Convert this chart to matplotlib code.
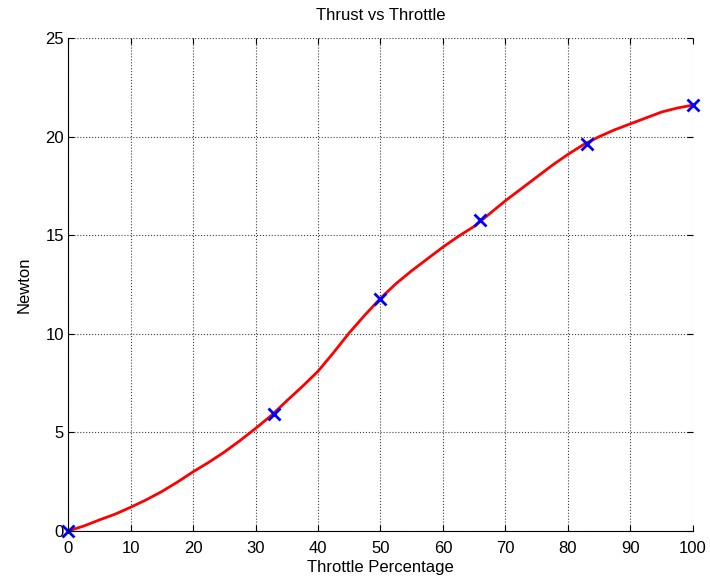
import numpy as np
import matplotlib.pyplot as plt

# Inputs
throttle = [0, 2.5, 5, 7.5, 10, 12.5, 15, 17.5, 20, 22.5, 25, 27.5, 30, 32.5, 35, 37.5, 40,
            42.5, 45, 47.5, 50, 52.5, 55, 57.5, 60, 62.5, 65, 67.5, 70, 72.5, 75, 77.5, 80,
            82.5, 85, 87.5, 90, 92.5, 95, 97.5, 100]
thrust = [0.0, 0.25, 0.56, 0.85, 1.2, 1.58, 2.0, 2.48, 3.0, 3.48, 4.0, 4.58, 5.2, 5.85,
          6.6, 7.33, 8.1, 9.05, 10.05, 10.95, 11.8, 12.55, 13.2, 13.8, 14.4, 14.95, 15.45,
          16.1, 16.75, 17.35, 17.95, 18.55, 19.1, 19.6, 20.0, 20.35, 20.65, 20.95, 21.25,
          21.45, 21.6]

meas_throttle = [0, 33, 50, 66, 83, 100]
meas_thrust = [0.0, 5.95, 11.75, 15.75, 19.65, 21.6]

plt.rcParams['font.family'] = ['Liberation Sans Narrow', 'Liberation Sans', 'DejaVu Sans']
plt.rcParams['font.size'] = 12

fig = plt.figure(figsize=(7.1, 5.85), dpi=100)
ax = fig.add_axes([0.0958, 0.0923, 0.8802, 0.8427])

ax.plot(throttle, thrust, color='red', lw=2)
ax.plot(meas_throttle, meas_thrust, 'x', color='blue', ms=9, mew=2, clip_on=False)

ax.set_xlim(0, 100)
ax.set_ylim(0, 25)
ax.set_xticks(np.arange(0, 101, 10))
ax.set_yticks(np.arange(0, 26, 5))
ax.grid(True, linestyle=':', color='#404040', lw=0.8)
ax.tick_params(direction='in', length=4, top=True, right=True, colors='black', pad=3)
ax.tick_params(axis='x', pad=7)
ax.spines['top'].set_visible(False)
ax.spines['right'].set_visible(False)

ax.set_title('Thrust vs Throttle', fontsize=12, pad=13)
ax.set_xlabel('Throttle Percentage', labelpad=3)
ax.set_ylabel('Newton', labelpad=10)

fig.savefig('out.png')
